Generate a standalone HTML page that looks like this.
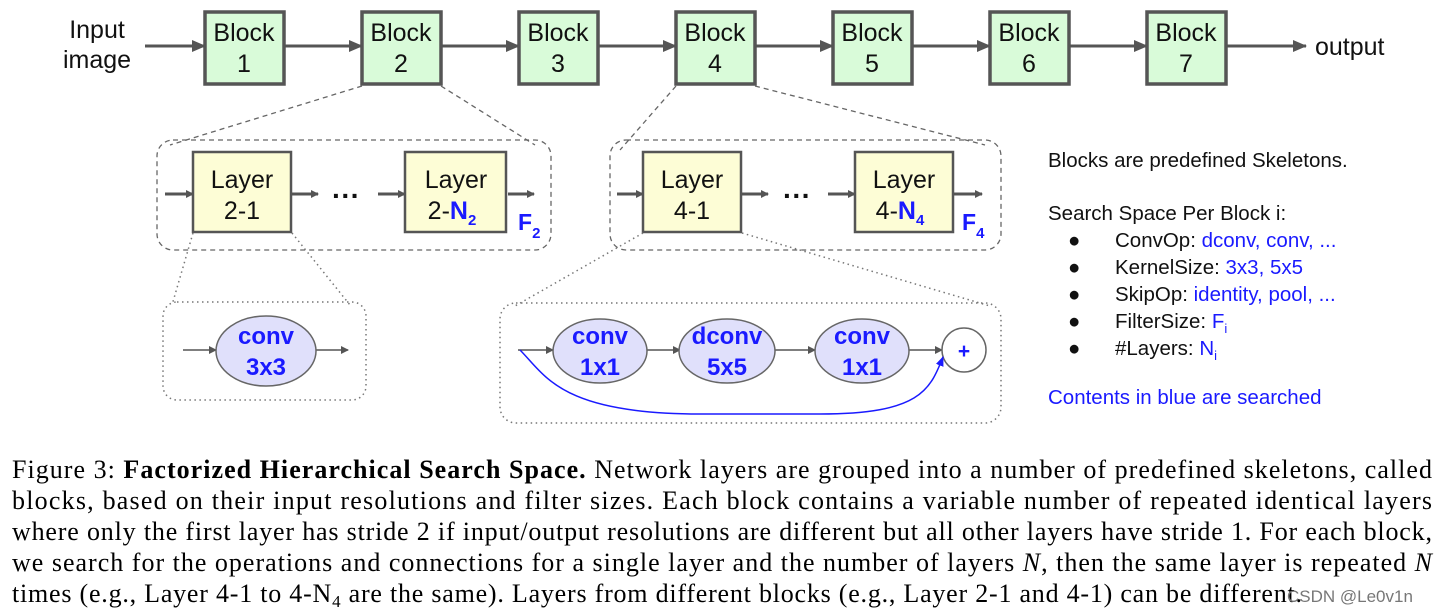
<!DOCTYPE html>
<html><head><meta charset="utf-8"><style>
html,body{margin:0;padding:0;background:#fff}
svg{display:block}
.s{font-family:"Liberation Sans",sans-serif}
.r{font-family:"Liberation Serif",serif;font-size:26px;fill:#000}
</style></head><body>
<svg width="1440" height="613" viewBox="0 0 1440 613" xmlns="http://www.w3.org/2000/svg">
<defs>
<marker id="a" markerWidth="8" markerHeight="8" refX="7" refY="4" orient="auto" markerUnits="userSpaceOnUse"><path d="M0,0 L8,4 L0,8 z" fill="#555"/></marker>
<marker id="am" markerWidth="14" markerHeight="12" refX="13" refY="6" orient="auto" markerUnits="userSpaceOnUse"><path d="M0,0 L14,6 L0,12 z" fill="#555"/></marker>
<marker id="b" markerWidth="10" markerHeight="10" refX="9" refY="5" orient="auto" markerUnits="userSpaceOnUse"><path d="M0,1 L10,5 L0,9 z" fill="#1a1aff"/></marker>
</defs>
<g class="s" font-size="25" fill="#111">
<text x="97" y="38" text-anchor="middle">Input</text>
<text x="97" y="68" text-anchor="middle">image</text>
<text x="1315" y="55">output</text>
</g>
<g stroke="#555" stroke-width="3" fill="none">
<line x1="145" y1="46" x2="205" y2="46" marker-end="url(#am)"/>
<line x1="284" y1="46" x2="362" y2="46" marker-end="url(#am)"/>
<line x1="441" y1="46" x2="519" y2="46" marker-end="url(#am)"/>
<line x1="598" y1="46" x2="676" y2="46" marker-end="url(#am)"/>
<line x1="755" y1="46" x2="833" y2="46" marker-end="url(#am)"/>
<line x1="912" y1="46" x2="990" y2="46" marker-end="url(#am)"/>
<line x1="1069" y1="46" x2="1147" y2="46" marker-end="url(#am)"/>
<line x1="1226" y1="46" x2="1306" y2="46" marker-end="url(#am)"/>
</g>
<g stroke="#555" stroke-width="3.5" fill="#d9fbd9">
<rect x="205" y="12" width="79" height="72"/>
<rect x="362" y="12" width="79" height="72"/>
<rect x="519" y="12" width="79" height="72"/>
<rect x="676" y="12" width="79" height="72"/>
<rect x="833" y="12" width="79" height="72"/>
<rect x="990" y="12" width="79" height="72"/>
<rect x="1147" y="12" width="79" height="72"/>
</g>
<g class="s" font-size="25" fill="#111" text-anchor="middle">
<text x="244" y="41">Block</text><text x="244" y="72">1</text>
<text x="401" y="41">Block</text><text x="401" y="72">2</text>
<text x="558" y="41">Block</text><text x="558" y="72">3</text>
<text x="715" y="41">Block</text><text x="715" y="72">4</text>
<text x="872" y="41">Block</text><text x="872" y="72">5</text>
<text x="1029" y="41">Block</text><text x="1029" y="72">6</text>
<text x="1186" y="41">Block</text><text x="1186" y="72">7</text>
</g>
<g stroke="#666" stroke-width="1.3" stroke-dasharray="5,4" fill="none">
<line x1="362" y1="86" x2="170" y2="145"/>
<line x1="441" y1="86" x2="535" y2="145"/>
<line x1="676" y1="86" x2="620" y2="150"/>
<line x1="755" y1="86" x2="985" y2="145"/>
<rect x="157" y="140" width="394" height="110" rx="16"/>
<rect x="610" y="140" width="391" height="110" rx="16"/>
</g>
<g stroke="#555" stroke-width="3" fill="none">
<line x1="165" y1="194" x2="193" y2="194" marker-end="url(#a)"/>
<line x1="292" y1="194" x2="318" y2="194" marker-end="url(#a)"/>
<line x1="378" y1="194" x2="405" y2="194" marker-end="url(#a)"/>
<line x1="508" y1="194" x2="534" y2="194" marker-end="url(#a)"/>
<line x1="617" y1="194" x2="643" y2="194" marker-end="url(#a)"/>
<line x1="742" y1="194" x2="768" y2="194" marker-end="url(#a)"/>
<line x1="828" y1="194" x2="855" y2="194" marker-end="url(#a)"/>
<line x1="954" y1="194" x2="982" y2="194" marker-end="url(#a)"/>
</g>
<g stroke="#555" stroke-width="2.5" fill="#fdfdd6">
<rect x="193" y="152" width="98" height="80"/>
<rect x="405" y="152" width="101" height="80"/>
<rect x="643" y="152" width="98" height="80"/>
<rect x="855" y="152" width="98" height="80"/>
</g>
<g class="s" font-size="25" fill="#111" text-anchor="middle">
<text x="242" y="188">Layer</text><text x="242" y="219">2-1</text>
<text x="456" y="188">Layer</text><text x="452" y="219">2-<tspan fill="#1a1aff" font-weight="bold">N</tspan><tspan fill="#1a1aff" font-weight="bold" font-size="15" dy="6">2</tspan></text>
<text x="692" y="188">Layer</text><text x="692" y="219">4-1</text>
<text x="904" y="188">Layer</text><text x="900" y="219">4-<tspan fill="#1a1aff" font-weight="bold">N</tspan><tspan fill="#1a1aff" font-weight="bold" font-size="15" dy="6">4</tspan></text>
<text x="346" y="205" font-weight="bold" font-size="28">···</text>
<text x="797" y="205" font-weight="bold" font-size="28">···</text>
</g>
<g class="s" font-weight="bold" fill="#1a1aff">
<text x="518" y="230" font-size="23">F<tspan font-size="15" dy="8">2</tspan></text>
<text x="962" y="230" font-size="23">F<tspan font-size="15" dy="8">4</tspan></text>
</g>
<g stroke="#777" stroke-width="1.5" stroke-dasharray="1.5,3.5" fill="none">
<line x1="193" y1="233" x2="172" y2="305"/>
<line x1="292" y1="233" x2="350" y2="305"/>
<line x1="643" y1="233" x2="515" y2="306"/>
<line x1="742" y1="233" x2="990" y2="306"/>
<rect x="163" y="302" width="203" height="98" rx="14"/>
<rect x="500" y="303" width="501" height="120" rx="16"/>
</g>
<g stroke="#555" stroke-width="1.5" fill="none">
<line x1="183" y1="350" x2="216" y2="350" marker-end="url(#a)"/>
<line x1="316" y1="350" x2="348" y2="350" marker-end="url(#a)"/>
<line x1="518" y1="350" x2="553" y2="350" marker-end="url(#a)"/>
<line x1="647" y1="350" x2="680" y2="350" marker-end="url(#a)"/>
<line x1="775" y1="350" x2="815" y2="350" marker-end="url(#a)"/>
<line x1="909" y1="350" x2="942" y2="350" marker-end="url(#a)"/>
</g>
<g stroke="#666" stroke-width="1.5" fill="#e0e0fb">
<ellipse cx="266" cy="351" rx="50" ry="35"/>
<ellipse cx="600" cy="351" rx="47" ry="32"/>
<ellipse cx="727" cy="351" rx="48" ry="32"/>
<ellipse cx="862" cy="351" rx="47" ry="32"/>
<circle cx="964" cy="350" r="22" fill="#fff"/>
</g>
<path d="M520,350 C545,375 560,414 700,414 L820,414 C920,414 930,390 943,357" stroke="#1a1aff" stroke-width="1.5" fill="none" marker-end="url(#b)"/>
<g class="s" font-size="24" font-weight="bold" fill="#1a1aff" text-anchor="middle">
<text x="266" y="344">conv</text><text x="266" y="375">3x3</text>
<text x="600" y="344">conv</text><text x="600" y="375">1x1</text>
<text x="727" y="344">dconv</text><text x="727" y="375">5x5</text>
<text x="862" y="344">conv</text><text x="862" y="375">1x1</text>
<text x="964" y="358" font-size="21">+</text>
</g>
<g class="s" font-size="20.5" fill="#111">
<text x="1048" y="167">Blocks are predefined Skeletons.</text>
<text x="1048" y="220">Search Space Per Block i:</text>
<text x="1068" y="247">●</text><text x="1068" y="274">●</text><text x="1068" y="301">●</text><text x="1068" y="328">●</text><text x="1068" y="355">●</text>
<text x="1115" y="247">ConvOp: <tspan fill="#1a1aff">dconv, conv, ...</tspan></text>
<text x="1115" y="274">KernelSize: <tspan fill="#1a1aff">3x3, 5x5</tspan></text>
<text x="1115" y="301">SkipOp: <tspan fill="#1a1aff">identity, pool, ...</tspan></text>
<text x="1115" y="328">FilterSize: <tspan fill="#1a1aff">F<tspan font-size="13" dy="5">i</tspan></tspan></text>
<text x="1115" y="355">#Layers: <tspan fill="#1a1aff">N<tspan font-size="13" dy="5">i</tspan></tspan></text>
<text x="1048" y="404" fill="#1a1aff">Contents in blue are searched</text>
</g>
<g class="r">
<text x="12" y="478" textLength="1420" lengthAdjust="spacing">Figure 3: <tspan font-weight="bold">Factorized Hierarchical Search Space.</tspan> Network layers are grouped into a number of predefined skeletons, called</text>
<text x="12" y="509" textLength="1420" lengthAdjust="spacing">blocks, based on their input resolutions and filter sizes. Each block contains a variable number of repeated identical layers</text>
<text x="12" y="540" textLength="1420" lengthAdjust="spacing">where only the first layer has stride 2 if input/output resolutions are different but all other layers have stride 1. For each block,</text>
<text x="12" y="571" textLength="1420" lengthAdjust="spacing">we search for the operations and connections for a single layer and the number of layers <tspan font-style="italic">N</tspan>, then the same layer is repeated <tspan font-style="italic">N</tspan></text>
<text x="12" y="602" textLength="1290" lengthAdjust="spacing">times (e.g., Layer 4-1 to 4-N<tspan font-size="17" dy="5">4</tspan><tspan dy="-5"> are the same). Layers from different blocks (e.g., Layer 2-1 and 4-1) can be different.</tspan></text>
</g>
<text x="1287" y="602" class="s" font-size="17" fill="#777">CSDN @Le0v1n</text>
</svg>
</body></html>
